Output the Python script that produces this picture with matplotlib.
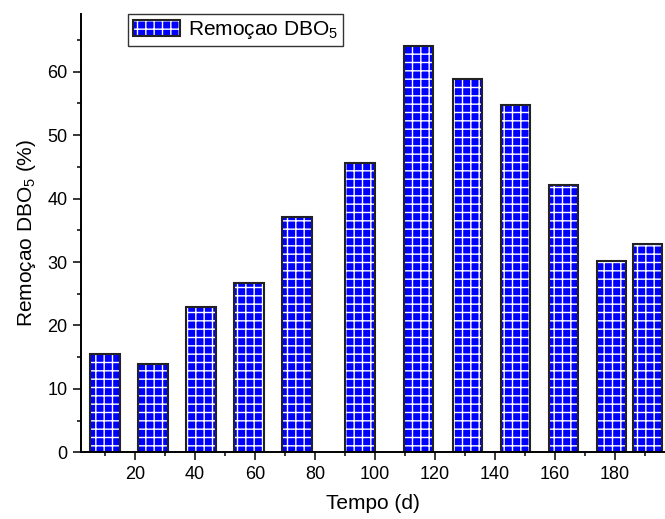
import matplotlib
matplotlib.use("Agg")
import matplotlib.pyplot as plt
from matplotlib.ticker import MultipleLocator
from matplotlib.legend_handler import HandlerTuple

plt.rcParams['font.family'] = ['Liberation Sans', 'DejaVu Sans']
plt.rcParams['mathtext.fontset'] = 'custom'
plt.rcParams['mathtext.rm'] = 'Liberation Sans'
plt.rcParams['mathtext.it'] = 'Liberation Sans:italic'
plt.rcParams['hatch.linewidth'] = 1.0

# Data
days = [10, 26, 42, 58, 74, 95, 114.5, 131, 147, 163, 179, 191]
removal = [15.5, 13.9, 22.9, 26.7, 37.1, 45.6, 64.1, 58.9, 54.7, 42.2, 30.2, 32.8]
xticks = [20, 40, 60, 80, 100, 120, 140, 160, 180]
yticks = [0, 10, 20, 30, 40, 50, 60]

fig = plt.figure(figsize=(6.65, 5.19), dpi=100)
ax = fig.add_axes([0.1214, 0.1285, 0.8786, 0.8445])

w = 9.7
b1 = ax.bar(days, removal, width=w, color='#0000FF', edgecolor='white',
            hatch='++', linewidth=0)
b2 = ax.bar(days, removal, width=w, fill=False, edgecolor='#222222',
            linewidth=1.5)

ax.set_xlim(1.9, 196.7)
ax.set_ylim(0, 69.1)
ax.set_xticks(xticks)
ax.set_yticks(yticks)
ax.xaxis.set_minor_locator(MultipleLocator(10))
ax.yaxis.set_minor_locator(MultipleLocator(5))

for s in ['top', 'right']:
    ax.spines[s].set_visible(False)
for s in ['left', 'bottom']:
    ax.spines[s].set_linewidth(1.4)

ax.tick_params(axis='both', which='major', direction='out', length=5.5,
               width=1.1, labelsize=13, pad=4)
ax.tick_params(axis='both', which='minor', direction='out', length=3,
               width=1.1)

ax.set_xlabel('Tempo (d)', fontsize=15, labelpad=8)
ax.set_ylabel('Remoçao DBO$_5$ (%)', fontsize=15, labelpad=7)

leg = ax.legend([(b1[0], b2[0])], ['Remoçao DBO$_5$'],
                handler_map={tuple: HandlerTuple(ndivide=1)},
                loc='upper left', bbox_to_anchor=(0.0806, 1.0),
                borderaxespad=0, fontsize=15, frameon=True, fancybox=False,
                handlelength=2.26, handleheight=0.87, handletextpad=0.38,
                borderpad=0.25)
leg.get_frame().set_edgecolor('black')
leg.get_frame().set_linewidth(1.0)

fig.savefig('out.png', dpi=100)
